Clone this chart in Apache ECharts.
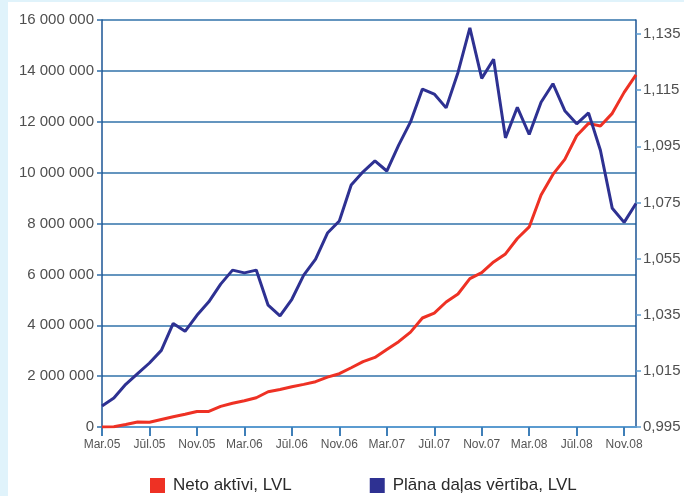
<!DOCTYPE html>
<html>
<head>
<meta charset="utf-8">
<script src="https://cdn.jsdelivr.net/npm/echarts@6/dist/echarts.min.js"></script>
<style>
  html, body { margin: 0; padding: 0; background: #e0f3fb; }
  #bg { position: absolute; left: 8px; top: 2px; width: 676px; height: 494px; background: #ffffff; }
  #chart { position: absolute; left: 0; top: 0; width: 684px; height: 496px; }
</style>
</head>
<body>
<div id="bg"></div>
<div id="chart"></div>
<script>
const months = [
  'Mar.05','Apr.05','Mai.05','Jūn.05','Jūl.05','Aug.05','Sep.05','Okt.05','Nov.05','Dec.05',
  'Jan.06','Feb.06','Mar.06','Apr.06','Mai.06','Jūn.06','Jūl.06','Aug.06','Sep.06','Okt.06','Nov.06','Dec.06',
  'Jan.07','Feb.07','Mar.07','Apr.07','Mai.07','Jūn.07','Jūl.07','Aug.07','Sep.07','Okt.07','Nov.07','Dec.07',
  'Jan.08','Feb.08','Mar.08','Apr.08','Mai.08','Jūn.08','Jūl.08','Aug.08','Sep.08','Okt.08','Nov.08','Dec.08'
];
const netoAktivi = [
  0, 10000, 100000, 200000, 190000, 295000, 400000, 500000, 610000, 610000,
  810000, 935000, 1030000, 1150000, 1385000, 1475000, 1585000, 1675000, 1780000, 1960000,
  2095000, 2330000, 2570000, 2735000, 3050000, 3355000, 3730000, 4285000, 4480000, 4915000,
  5230000, 5835000, 6070000, 6490000, 6805000, 7410000, 7865000, 9120000, 9930000, 10520000,
  11450000, 11935000, 11830000, 12330000, 13155000, 13840000
];
const planaDalasVertiba = [
  1.0025, 1.0053, 1.0102, 1.0140, 1.0178, 1.0223, 1.0319, 1.0291, 1.0348, 1.0396,
  1.0459, 1.0509, 1.0499, 1.0509, 1.0384, 1.0346, 1.0405, 1.0491, 1.0548, 1.0641,
  1.0684, 1.0812, 1.0859, 1.0898, 1.0862, 1.0954, 1.1037, 1.1154, 1.1136, 1.1087,
  1.1213, 1.1372, 1.1192, 1.1260, 1.0980, 1.1089, 1.0992, 1.1107, 1.1173, 1.1077,
  1.1030, 1.1069, 1.0936, 1.0729, 1.0679, 1.0746
];
const leftTicks = [0, 2000000, 4000000, 6000000, 8000000, 10000000, 12000000, 14000000, 16000000];
const rightTicks = [0.995, 1.015, 1.035, 1.055, 1.075, 1.095, 1.115, 1.135];
const seriesNames = ['Neto aktīvi, LVL', 'Plāna daļas vērtība, LVL'];

const FONT = '"Liberation Sans", Arial, sans-serif';
function fmtSpaces(v) {
  return String(Math.round(v)).replace(/\B(?=(\d{3})+(?!\d))/g, ' ');
}

const chart = echarts.init(document.getElementById('chart'), null, { renderer: 'canvas' });
chart.setOption({
  backgroundColor: 'transparent',
  animation: false,
  textStyle: { fontFamily: FONT },
  grid: { left: 102, right: 48, top: 20, bottom: 69, containLabel: false },
  legend: {
    left: 150, top: 477, padding: 0,
    itemWidth: 15, itemHeight: 15, itemGap: 78,
    icon: 'rect',
    textStyle: { fontSize: 17, color: '#2a2a2a', fontFamily: FONT, padding: [0, 0, 0, 3] },
    data: [
      { name: seriesNames[0], itemStyle: { color: '#ee3124' } },
      { name: seriesNames[1], itemStyle: { color: '#2e3192' } }
    ]
  },
  xAxis: {
    type: 'category',
    data: months,
    boundaryGap: false,
    axisLine: { lineStyle: { color: '#5b9bd0', width: 2 } },
    axisTick: { show: true, interval: 3, length: 9, lineStyle: { color: '#3f7fb8', width: 2 } },
    axisLabel: { interval: 3, fontSize: 12, color: '#555', margin: 12, fontFamily: FONT },
    splitLine: { show: false }
  },
  yAxis: [
    {
      type: 'value', min: 0, max: 16000000, interval: 2000000, position: 'left',
      axisLine: { show: true, lineStyle: { color: '#1b5595', width: 1.5 } },
      axisTick: { show: true, length: 5, lineStyle: { color: '#2f6ea8', width: 1.5 } },
      axisLabel: {
        fontSize: 15, color: '#4f4f4f', margin: 8, fontFamily: FONT,
        customValues: leftTicks,
        formatter: v => fmtSpaces(v)
      },
      splitLine: { show: true, lineStyle: { color: '#3072aa', width: 1.5 } }
    },
    {
      type: 'value', min: 0.995, max: 1.14, interval: 0.02, position: 'right',
      axisLine: { show: true, lineStyle: { color: '#1b5595', width: 1.5 } },
      axisTick: { show: true, length: 5, customValues: rightTicks, lineStyle: { color: '#5b9bd0', width: 1.5 } },
      axisLabel: {
        fontSize: 15, color: '#4f4f4f', margin: 7, fontFamily: FONT,
        customValues: rightTicks,
        formatter: v => v.toFixed(3).replace('.', ',')
      },
      splitLine: { show: false }
    }
  ],
  series: [
    {
      name: seriesNames[0], type: 'line', yAxisIndex: 0, data: netoAktivi,
      symbol: 'none', lineStyle: { color: '#ee3124', width: 3 }, itemStyle: { color: '#ee3124' }
    },
    {
      name: seriesNames[1], type: 'line', yAxisIndex: 1, data: planaDalasVertiba,
      symbol: 'none', lineStyle: { color: '#2e3192', width: 3 }, itemStyle: { color: '#2e3192' }
    }
  ]
});
</script>
</body>
</html>
